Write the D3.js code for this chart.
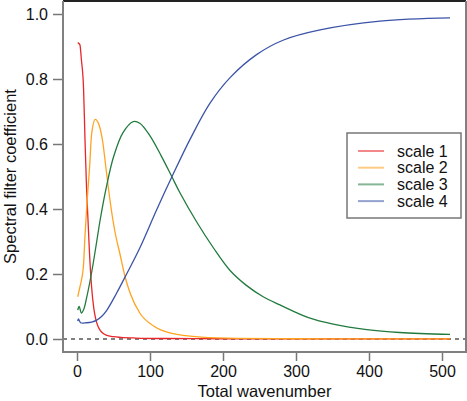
<!DOCTYPE html>
<html lang="en">
<head>
    <meta charset="UTF-8">
    <title>Spectral filter coefficients</title>
    <script src="https://d3js.org/d3.v7.min.js"></script>
    <style>
        body { margin: 0; background: #fff; }
        svg text { font-family: "Liberation Sans", Arial, Helvetica, sans-serif; fill: #111; }
        .tick text { font-size: 16px; }
        .axis-label { font-size: 16.5px; }
        .legend text { font-size: 16px; }
    </style>
</head>
<body>
    <div id="chart"></div>
    <script>
        // Values
        const seriesNames = ["scale 1", "scale 2", "scale 3", "scale 4"];
        const seriesColors = ["#e8262a", "#ffa31f", "#217a3e", "#3b54a8"];

        const scale1N = [1, 4, 6, 9, 11, 13, 15, 17, 20, 23, 26, 29, 32, 36, 40, 50, 60, 80, 120, 200, 300, 400, 511];
        const scale1V = [0.912, 0.905, 0.86, 0.77, 0.61, 0.47, 0.37, 0.27, 0.16, 0.095, 0.058, 0.038, 0.026, 0.017, 0.012, 0.007, 0.005, 0.003, 0.0015, 0.0008, 0.0004, 0.0002, 0.0001];

        const scale2N = [1, 4, 6, 9, 11, 14, 17, 20, 25, 30, 35, 40, 45, 52, 59, 66, 73, 86, 105, 130, 170, 220, 300, 400, 511];
        const scale2V = [0.13, 0.16, 0.18, 0.23, 0.32, 0.43, 0.52, 0.63, 0.676, 0.66, 0.61, 0.52, 0.43, 0.33, 0.26, 0.19, 0.14, 0.08, 0.04, 0.017, 0.006, 0.002, 0.0007, 0.0003, 0.0001];

        const scale3N = [1, 3, 6, 9, 13, 18, 22, 27, 32, 40, 50, 63, 77, 86, 100, 115, 130, 141, 164, 187, 210, 232, 255, 278, 317, 351, 397, 442, 511];
        const scale3V = [0.089, 0.10, 0.08, 0.09, 0.125, 0.18, 0.23, 0.30, 0.37, 0.465, 0.56, 0.635, 0.669, 0.664, 0.625, 0.565, 0.499, 0.45, 0.36, 0.28, 0.21, 0.165, 0.13, 0.105, 0.066, 0.046, 0.029, 0.02, 0.014];

        const scale4N = [1, 2, 5, 13, 20, 27, 34, 41, 54, 68, 86, 109, 130, 155, 182, 210, 246, 283, 333, 415, 511];
        const scale4V = [0.055, 0.062, 0.05, 0.05, 0.052, 0.058, 0.07, 0.089, 0.14, 0.20, 0.28, 0.397, 0.499, 0.615, 0.725, 0.805, 0.875, 0.92, 0.951, 0.978, 0.988];

        const xTicks = [0, 100, 200, 300, 400, 500];
        const yTicks = [0.0, 0.2, 0.4, 0.6, 0.8, 1.0];

        const W = 467, H = 401;
        const box = {left: 63, right: 466, top: 1, bottom: 352};

        const svg = d3.select("#chart").append("svg")
            .attr("width", W).attr("height", H);

        const x = d3.scaleLinear().domain([0, 500]).range([77, 442]);
        const y = d3.scaleLinear().domain([0, 1]).range([339, 14]);

        // zero reference line
        svg.append("line")
            .attr("x1", box.left).attr("x2", box.right)
            .attr("y1", y(0)).attr("y2", y(0))
            .attr("stroke", "#000").attr("stroke-width", 1)
            .attr("stroke-dasharray", "4,4");

        // curves: sharp ones keep monotone, broad ones smoothed
        const allSeries = [
            [scale1N, scale1V, d3.curveMonotoneX],
            [scale2N, scale2V, d3.curveMonotoneX],
            [scale3N, scale3V, d3.curveCatmullRom],
            [scale4N, scale4V, d3.curveCatmullRom]
        ];

        allSeries.forEach((s, i) => {
            const pts = s[0].map((n, j) => [n, s[1][j]]);
            const line = d3.line()
                .x(d => x(d[0]))
                .y(d => y(d[1]))
                .curve(s[2]);
            svg.append("path")
                .datum(pts)
                .attr("fill", "none")
                .attr("stroke", seriesColors[i])
                .attr("stroke-width", 1.3)
                .attr("d", line);
        });

        // axes
        const yAxis = svg.append("g")
            .attr("transform", `translate(${box.left - 1},0)`)
            .call(d3.axisLeft(y).tickValues(yTicks).tickFormat(d3.format(".1f"))
                .tickSize(9).tickPadding(5));
        const xAxis = svg.append("g")
            .attr("transform", `translate(0,${box.bottom + 1})`)
            .call(d3.axisBottom(x).tickValues(xTicks).tickFormat(d3.format("d"))
                .tickSize(8).tickPadding(5));
        [yAxis, xAxis].forEach(g => {
            g.select(".domain").remove();
            g.selectAll(".tick line").attr("stroke", "#777").attr("stroke-width", 1.5);
        });

        // plot frame
        svg.append("line")
            .attr("x1", box.left).attr("x2", box.right).attr("y1", box.top).attr("y2", box.top)
            .attr("stroke", "#222").attr("stroke-width", 2);
        svg.append("path")
            .attr("d", `M${box.left},${box.top}V${box.bottom}H${box.right}V${box.top}`)
            .attr("fill", "none").attr("stroke", "#808080").attr("stroke-width", 2);

        // axis titles
        svg.append("text")
            .attr("class", "axis-label")
            .attr("x", (box.left + box.right) / 2)
            .attr("y", 397)
            .attr("text-anchor", "middle")
            .text("Total wavenumber");
        svg.append("text")
            .attr("class", "axis-label")
            .attr("transform", `translate(16,${(box.top + box.bottom) / 2}) rotate(-90)`)
            .attr("text-anchor", "middle")
            .text("Spectral filter coefficient");

        // legend
        const legend = svg.append("g").attr("class", "legend");
        legend.append("rect")
            .attr("x", 347).attr("y", 133).attr("width", 114).attr("height", 85)
            .attr("fill", "#fff").attr("stroke", "#777").attr("stroke-width", 1.5);
        seriesNames.forEach((name, i) => {
            const ly = 151 + i * 16.7;
            legend.append("line")
                .attr("x1", 358).attr("x2", 384).attr("y1", ly).attr("y2", ly)
                .attr("stroke", seriesColors[i]).attr("stroke-opacity", 0.55)
                .attr("stroke-width", 2);
            legend.append("text")
                .attr("x", 397).attr("y", ly)
                .attr("dy", "0.36em")
                .text(name);
        });
    </script>
</body>
</html>
